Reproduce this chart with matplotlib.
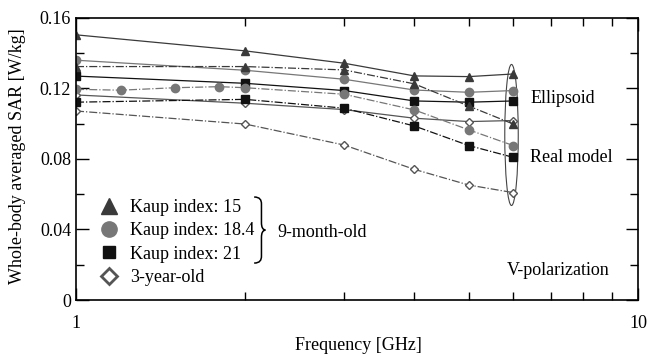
import matplotlib
matplotlib.use('Agg')
import matplotlib.pyplot as plt
from matplotlib.patches import Ellipse, PathPatch
from matplotlib.path import Path
from matplotlib.ticker import FixedLocator, NullFormatter, FixedFormatter

plt.rcParams['font.family'] = ['Liberation Serif', 'DejaVu Serif']

freq = [1, 2, 3, 4, 5, 6]
freq_fine = [1, 1.2, 1.5, 1.8, 2, 3, 4, 5, 6]

# ellipsoid (solid lines)
ell_k15 = [0.1504, 0.1413, 0.1343, 0.1271, 0.1267, 0.1282]
ell_k184 = [0.1360, 0.1303, 0.1252, 0.1191, 0.1178, 0.1188]
ell_k21 = [0.1270, 0.1229, 0.1188, 0.1129, 0.1122, 0.1129]
ell_3y = [0.1163, 0.1116, 0.1080, 0.1031, 0.1012, 0.1018]

# real model (dash-dot lines)
real_k15 = [0.1324, 0.1324, 0.1305, 0.1226, 0.1100, 0.0998]
real_k184 = [0.1195, 0.1190, 0.1204, 0.1210, 0.1204, 0.1167, 0.1078, 0.0965, 0.0876]
real_k21 = [0.1122, 0.1138, 0.1088, 0.0987, 0.0876, 0.0809]
real_3y = [0.1072, 0.0998, 0.0879, 0.0741, 0.0652, 0.0609]

legend_labels = ['Kaup index: 15', 'Kaup index: 18.4', 'Kaup index: 21', '3-year-old']

c_tri = '#3a3a3a'
c_cir = '#777777'
c_sq = '#111111'
c_dia = '#555555'

fig = plt.figure(figsize=(6.47, 3.58), dpi=100)
ax = fig.add_axes([0.1175, 0.162, 0.8685, 0.788])
ax.set_xscale('log')

ms = 6
# solid = ellipsoid
ax.plot(freq, ell_k15, '-', color=c_tri, lw=0.9, marker='^', ms=ms, mfc=c_tri, mec=c_tri)
ax.plot(freq, ell_k184, '-', color=c_cir, lw=0.9, marker='o', ms=ms, mfc=c_cir, mec=c_cir)
ax.plot(freq, ell_k21, '-', color=c_sq, lw=0.9, marker='s', ms=ms - 0.5, mfc=c_sq, mec=c_sq)
ax.plot(freq, ell_3y, '-', color=c_dia, lw=0.9, marker='D', ms=ms - 1.5, mfc='white', mec=c_dia, mew=1)
# dash-dot = real model
ax.plot(freq, real_k15, '-.', color=c_tri, lw=0.9, marker='^', ms=ms, mfc=c_tri, mec=c_tri)
ax.plot(freq_fine, real_k184, '-.', color=c_cir, lw=0.9, marker='o', ms=ms, mfc=c_cir, mec=c_cir)
ax.plot(freq, real_k21, '-.', color=c_sq, lw=0.9, marker='s', ms=ms - 0.5, mfc=c_sq, mec=c_sq)
ax.plot(freq, real_3y, '-.', color=c_dia, lw=0.9, marker='D', ms=ms - 1.5, mfc='white', mec=c_dia, mew=1)

ax.set_xlim(1, 10)
ax.set_ylim(0, 0.16)

ax.xaxis.set_major_locator(FixedLocator([1, 10]))
ax.xaxis.set_major_formatter(FixedFormatter(['1', '10']))
ax.xaxis.set_minor_locator(FixedLocator([2, 3, 4, 5, 6, 7, 8, 9]))
ax.xaxis.set_minor_formatter(NullFormatter())
ax.set_yticks([0, 0.04, 0.08, 0.12, 0.16])
ax.set_yticklabels(['0', '0.04', '0.08', '0.12', '0.16'])
ax.yaxis.set_minor_locator(FixedLocator([0.02, 0.06, 0.10, 0.14]))

ax.tick_params(which='both', direction='in', top=True, right=True, labelsize=13, width=1)
ax.tick_params(which='major', length=9)
ax.tick_params(which='minor', length=6)
ax.tick_params(axis='x', which='major', pad=11)
for s in ax.spines.values():
    s.set_linewidth(1.2)

fig.text(358 / 647, 1 - 345 / 358, 'Frequency [GHz]', fontsize=13, ha='center', va='center')
fig.text(18 / 647, 1 - 156 / 358, 'Whole-body averaged SAR [W/kg]', fontsize=13,
         ha='center', va='center', rotation=90)

# legend
handles = [
    plt.Line2D([], [], ls='none', marker='^', ms=11, mfc=c_tri, mec=c_tri),
    plt.Line2D([], [], ls='none', marker='o', ms=11, mfc=c_cir, mec=c_cir),
    plt.Line2D([], [], ls='none', marker='s', ms=9, mfc=c_sq, mec=c_sq),
    plt.Line2D([], [], ls='none', marker='D', ms=8, mfc='white', mec=c_dia, mew=2),
]
ax.legend(handles, legend_labels, loc='lower left', bbox_to_anchor=(0.039, 0.05),
          frameon=False, fontsize=13, handlelength=1.2, handletextpad=0.6,
          labelspacing=0.35, borderaxespad=0, borderpad=0)

# brace grouping the 9-month-old entries
verts = [(0.317, 0.365), (0.327, 0.365), (0.330, 0.355), (0.330, 0.340),
         (0.330, 0.275),
         (0.330, 0.258), (0.332, 0.250), (0.337, 0.248),
         (0.332, 0.246), (0.330, 0.238), (0.330, 0.221),
         (0.330, 0.156),
         (0.330, 0.141), (0.327, 0.131), (0.317, 0.131)]
codes = [Path.MOVETO, Path.CURVE4, Path.CURVE4, Path.CURVE4,
         Path.LINETO,
         Path.CURVE4, Path.CURVE4, Path.CURVE4,
         Path.CURVE4, Path.CURVE4, Path.CURVE4,
         Path.LINETO,
         Path.CURVE4, Path.CURVE4, Path.CURVE4]
ax.add_patch(PathPatch(Path(verts, codes), transform=ax.transAxes, fill=False,
                       ec='black', lw=1.1))
ax.text(0.358, 0.241, '9-month-old', transform=ax.transAxes, fontsize=13, va='center')

ax.text(0.808, 0.714, 'Ellipsoid', transform=ax.transAxes, fontsize=13, va='center')
ax.text(0.808, 0.505, 'Real model', transform=ax.transAxes, fontsize=13, va='center')
ax.text(0.767, 0.103, 'V-polarization', transform=ax.transAxes, fontsize=13, va='center')

ax.add_patch(Ellipse((0.775, 0.585), 0.024, 0.50, transform=ax.transAxes,
                     fill=False, ec='#444444', lw=0.8))

fig.savefig('out.png', dpi=100)
